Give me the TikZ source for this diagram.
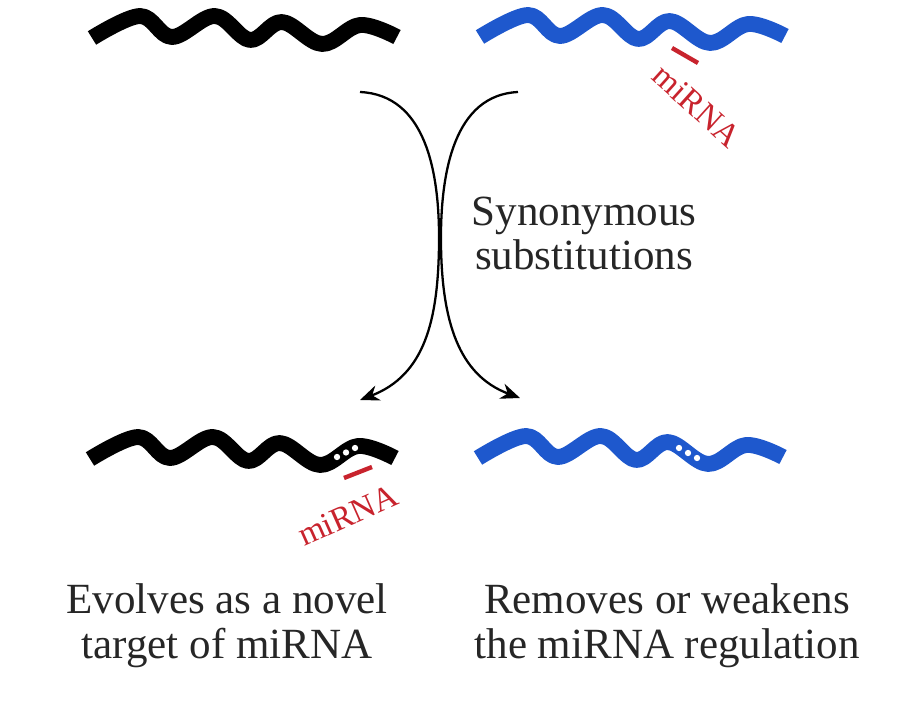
\documentclass[tikz,border=0pt]{standalone}
\usepackage{fontspec}
\setmainfont{Liberation Serif}
\usetikzlibrary{arrows.meta}
\definecolor{StrandBlue}{RGB}{30,88,205}
\definecolor{MirnaRed}{RGB}{200,35,45}
\colorlet{LabelText}{black!85}
\tikzset{
    strand/.pic={
        \draw[line width=9pt, line join=round]
        plot[smooth, tension=0.6] coordinates {(0,0) (48,-22) (80,-1) (123,-22) (158,2) (190,-16) (230,6) (268,-13) (305,-1)};
    },
    site dot/.style={fill=white, draw=none},
    mirna bar/.style={draw=MirnaRed, line width=2.5pt},
    mirna label/.style={text=MirnaRed, font=\fontsize{19}{19}\selectfont},
    caption/.style={text=LabelText, align=center, font=\fontsize{24.5}{25.5}\selectfont},
    swap arrow/.style={-{Stealth[length=11pt, width=9pt]}, line width=1.3pt}
}

\begin{document}
\begin{tikzpicture}[x=0.02cm, y=-0.02cm]

    \useasboundingbox (0,0) rectangle (920,702);

    \coordinate (TL) at (92,38);
    \coordinate (TR) at (480,37);
    \coordinate (BL) at (90,459);
    \coordinate (BR) at (478,458);

    % Cadenas de ARN
    \pic[color=black] at (TL) {strand};
    \pic[color=StrandBlue] at (TR) {strand};
    \pic[color=black] at (BL) {strand};
    \pic[color=StrandBlue] at (BR) {strand};

    % Sustituciones en el sitio de union
    \fill[site dot, shift={(BL)}] (247,-2) circle[radius=1.8pt] (256,-6.5) circle[radius=1.8pt] (265,-11) circle[radius=1.8pt];
    \fill[site dot, shift={(BR)}] (201,-10) circle[radius=1.8pt] (210,-5) circle[radius=1.8pt] (219,0) circle[radius=1.8pt];

    % miRNA
    \draw[mirna bar] (672,48) -- (698,63);
    \draw[mirna bar] (344,478) -- (372,467);
    \node[mirna label, rotate=-42] (MirnaTop) at (697,106) {miRNA};
    \node[mirna label, rotate=24] (MirnaBottom) at (348,515) {miRNA};

    % Flechas cruzadas
    \coordinate (LeftStart) at (360,92);
    \coordinate (LeftEnd) at (360,400);
    \coordinate (RightStart) at (518,92);
    \coordinate (RightEnd) at (520,398);
    \draw[swap arrow] (LeftStart) .. controls (425,95) and (440,170) .. (439,245)
        .. controls (438,320) and (425,375) .. (LeftEnd);
    \draw[swap arrow] (RightStart) .. controls (455,95) and (440,170) .. (441,245)
        .. controls (442,320) and (458,375) .. (RightEnd);

    \node[caption, anchor=base] (Synon) at (584,270) {Synonymous\\substitutions};
    \node[caption, anchor=base] (Novel) at (227,658) {Evolves as a novel\\target of miRNA};
    \node[caption, anchor=base] (Weaken) at (667,658) {Removes or weakens\\the miRNA regulation};

\end{tikzpicture}
\end{document}
